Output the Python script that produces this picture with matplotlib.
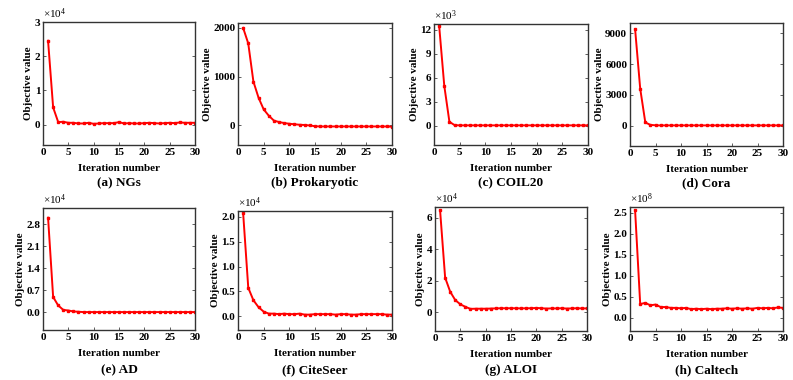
import numpy as np
import matplotlib
matplotlib.use("Agg")
import matplotlib.pyplot as plt

plt.rcParams["font.family"] = ["Liberation Serif", "DejaVu Serif"]
plt.rcParams["font.weight"] = "bold"
plt.rcParams["mathtext.default"] = "regular"

iters = np.arange(1, 31)

ngs = [2.45, 0.5, 0.07, 0.08, 0.05, 0.05, 0.03, 0.03, 0.05, 0.02, 0.03, 0.04, 0.04, 0.04, 0.07,
       0.03, 0.04, 0.03, 0.03, 0.04, 0.05, 0.04, 0.03, 0.04, 0.05, 0.04, 0.06, 0.05, 0.05, 0.05]
prokaryotic = [2000, 1680, 900, 570, 330, 200, 100, 70, 50, 35, 25, 15, 10, 0, -15,
               -20, -20, -20, -20, -20, -20, -20, -20, -20, -20, -20, -20, -20, -20, -25]
coil20 = [12.5, 5.0, 0.5, 0.08, 0.05] + [0.05] * 25
cora = [9400, 3600, 300, 60, 20] + [10] * 25
ad = [3.0, 0.48, 0.21, 0.07, 0.05, 0.02, 0.01] + [0.0] * 23
citeseer = [2.08, 0.57, 0.32, 0.18, 0.09, 0.05, 0.05, 0.04, 0.05, 0.04, 0.04, 0.05, 0.03, 0.03, 0.04,
            0.04, 0.04, 0.04, 0.03, 0.04, 0.04, 0.03, 0.03, 0.04, 0.04, 0.04, 0.04, 0.04, 0.03, 0.03]
aloi = [6.5, 2.2, 1.3, 0.77, 0.5, 0.34, 0.21, 0.22, 0.22, 0.22, 0.23, 0.24, 0.25, 0.25, 0.25,
        0.25, 0.24, 0.25, 0.25, 0.27, 0.25, 0.23, 0.24, 0.24, 0.25, 0.23, 0.24, 0.25, 0.24, 0.24]
caltech = [2.56, 0.33, 0.36, 0.30, 0.32, 0.26, 0.26, 0.24, 0.24, 0.23, 0.24, 0.21, 0.22, 0.21, 0.22,
           0.21, 0.22, 0.22, 0.23, 0.22, 0.23, 0.22, 0.23, 0.22, 0.24, 0.23, 0.24, 0.23, 0.25, 0.24]

series = [ngs, prokaryotic, coil20, cora, ad, citeseer, aloi, caltech]
captions = ["(a) NGs", "(b) Prokaryotic", "(c) COIL20", "(d) Cora",
            "(e) AD", "(f) CiteSeer", "(g) ALOI", "(h) Caltech"]
multipliers = [r"$\times10^4$", None, r"$\times10^3$", None,
               r"$\times10^4$", r"$\times10^4$", r"$\times10^4$", r"$\times10^8$"]
yticks = [[0, 1, 2, 3], [0, 1000, 2000], [0, 3, 6, 9, 12], [0, 3000, 6000, 9000],
          [0.0, 0.7, 1.4, 2.1, 2.8], [0.0, 0.5, 1.0, 1.5, 2.0], [0, 2, 4, 6],
          [0.0, 0.5, 1.0, 1.5, 2.0, 2.5]]
ytick_fmt = ["{:.0f}", "{:.0f}", "{:.0f}", "{:.0f}", "{:.1f}", "{:.1f}", "{:.0f}", "{:.1f}"]
ylims = [(-0.6, 3.0), (-400, 2100), (-2.4, 12.7), (-2000, 10000),
         (-0.57, 3.31), (-0.28, 2.12), (-1.2, 6.7), (-0.31, 2.64)]

# axes boxes in pixels: left, right, top, bottom
boxes = [(43, 195, 22, 145), (238, 392, 23, 145), (434, 588, 24, 145), (630, 783, 23, 146),
         (43, 195, 208, 330), (238, 392, 211, 330), (435, 587, 207, 331), (630, 783, 207, 331)]

W, H = 793, 380
fig = plt.figure(figsize=(W / 100, H / 100), dpi=100)

for i in range(8):
    l, r, t, b = boxes[i]
    ax = fig.add_axes([l / W, (H - b) / H, (r - l) / W, (b - t) / H])
    ax.plot(iters, series[i], color="#ff0000", lw=1.4, marker="s", ms=1.6)
    ax.set_xlim(0, 30)
    ax.set_ylim(*ylims[i])
    ax.set_xticks(range(0, 31, 5))
    ax.set_yticks(yticks[i])
    ax.set_yticklabels([ytick_fmt[i].format(v) for v in yticks[i]])
    ax.tick_params(direction="in", length=2, width=0.6, labelsize=8,
                   right=True, top=False, pad=2, color="#444444")
    for s in ax.spines.values():
        s.set_color("#333333")
        s.set_linewidth(1.0)
    ax.set_xlabel("Iteration number", fontsize=8, fontweight="bold", labelpad=5)
    ax.set_ylabel("Objective value", fontsize=8, fontweight="bold", labelpad=1)
    if multipliers[i]:
        ax.text(0.0, 1.01, multipliers[i], transform=ax.transAxes, fontsize=8,
                fontweight="normal", ha="left", va="bottom")
    cap_y = 183 if i < 4 else 370
    fig.text((l + r) / 2 / W, (H - cap_y) / H, captions[i], fontsize=9.5,
             fontweight="bold", ha="center", va="center")

fig.savefig("out.png", dpi=100)
